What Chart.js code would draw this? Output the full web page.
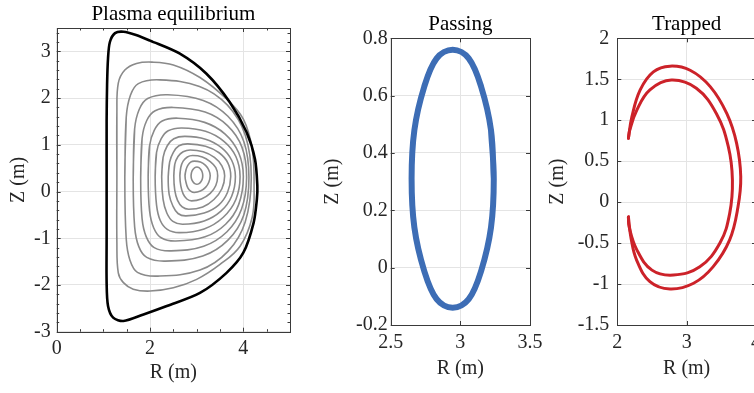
<!DOCTYPE html>
<html>
<head>
<meta charset="utf-8">
<title>Plasma equilibrium and orbits</title>
<script src="https://cdn.jsdelivr.net/npm/chart.js@4.4.1/dist/chart.umd.min.js"></script>
<style>
  html, body { margin: 0; padding: 0; background: #fff; overflow: hidden; }
  body { width: 754px; height: 393px; position: relative; }
  canvas { position: absolute; top: 0; }
</style>
</head>
<body>
<canvas id="eq" width="300" height="393" style="left:0px"></canvas>
<canvas id="pass" width="250" height="393" style="left:300px"></canvas>
<canvas id="trap" width="240" height="393" style="left:540px"></canvas>
<script>
// tick labels
var eqR = [0, 2, 4];
var eqZ = [-3, -2, -1, 0, 1, 2, 3];
var passR = [2.5, 3, 3.5];
var passZ = [-0.2, 0, 0.2, 0.4, 0.6, 0.8];
var trapR = [2, 3, 4];
var trapZ = [-1.5, -1, -0.5, 0, 0.5, 1, 1.5, 2];

// last closed flux surface [R, Z]
var lcfs = [[1.07,0.30],[1.07,1.50],[1.08,2.30],[1.10,2.85],[1.14,3.20],[1.25,3.39],[1.43,3.42],[1.70,3.35],
  [2.00,3.23],[2.64,2.95],[3.21,2.52],[3.71,1.91],[4.07,1.27],[4.25,0.69],[4.30,0.12],[4.29,-0.17],
  [4.22,-0.67],[4.00,-1.31],[3.64,-1.74],[3.07,-2.17],[2.36,-2.45],[1.86,-2.63],[1.43,-2.77],[1.21,-2.70],
  [1.10,-2.45],[1.07,-1.95],[1.07,-1.00]];

// inner flux surfaces, outermost first
var fluxSurfaces = [
  [[1.29,0.30],[1.29,1.70],[1.32,2.32],[1.46,2.60],[1.71,2.74],[2.04,2.77],[2.50,2.71],[3.07,2.44],[3.64,1.98],
   [4.00,1.55],[4.19,0.91],[4.23,0.10],[4.19,-0.55],[3.93,-1.17],[3.50,-1.56],[3.00,-1.88],[2.50,-2.06],
   [2.00,-2.13],[1.64,-2.09],[1.43,-1.95],[1.32,-1.74],[1.29,-1.10]],
  [[1.46,0.30],[1.49,1.59],[1.58,2.06],[1.75,2.31],[2.21,2.39],[3.06,2.25],[3.66,1.85],[4.04,1.21],
   [4.17,0.30],[4.04,-0.65],[3.67,-1.28],[3.07,-1.68],[2.17,-1.81],[1.73,-1.73],[1.57,-1.47],[1.49,-1.01]],
  [[1.64,0.30],[1.67,1.34],[1.77,1.76],[1.95,1.99],[2.38,2.07],[3.14,1.95],[3.67,1.61],[4.01,1.07],
   [4.12,0.30],[4.01,-0.50],[3.67,-1.04],[3.13,-1.38],[2.33,-1.49],[1.93,-1.41],[1.76,-1.18],[1.67,-0.75]],
  [[1.80,0.30],[1.83,1.14],[1.93,1.52],[2.11,1.73],[2.50,1.80],[3.18,1.70],[3.66,1.41],[3.97,0.95],
   [4.07,0.30],[3.96,-0.38],[3.65,-0.86],[3.15,-1.17],[2.45,-1.27],[2.09,-1.20],[1.92,-0.97],[1.83,-0.58]],
  [[1.96,0.32],[1.99,0.98],[2.09,1.31],[2.26,1.51],[2.60,1.57],[3.17,1.48],[3.61,1.23],[3.90,0.83],
   [4.00,0.32],[3.90,-0.28],[3.62,-0.70],[3.18,-0.97],[2.55,-1.06],[2.24,-0.99],[2.08,-0.78],[1.99,-0.41]],
  [[2.11,0.32],[2.14,0.84],[2.24,1.13],[2.39,1.30],[2.68,1.36],[3.19,1.29],[3.59,1.07],[3.84,0.75],
   [3.93,0.32],[3.84,-0.17],[3.57,-0.55],[3.16,-0.80],[2.63,-0.88],[2.37,-0.81],[2.22,-0.62],[2.14,-0.29]],
  [[2.25,0.32],[2.28,0.73],[2.37,0.98],[2.51,1.13],[2.75,1.18],[3.19,1.12],[3.53,0.94],[3.75,0.67],
   [3.83,0.32],[3.75,-0.10],[3.52,-0.42],[3.16,-0.63],[2.70,-0.70],[2.49,-0.64],[2.36,-0.46],[2.28,-0.17]],
  [[2.39,0.32],[2.42,0.63],[2.50,0.84],[2.62,0.98],[2.81,1.02],[3.19,0.97],[3.48,0.83],[3.67,0.61],
   [3.73,0.32],[3.66,-0.02],[3.47,-0.29],[3.16,-0.46],[2.77,-0.52],[2.60,-0.47],[2.49,-0.31],[2.41,-0.06]],
  [[2.51,0.34],[2.53,0.58],[2.60,0.75],[2.71,0.85],[2.86,0.89],[3.14,0.85],[3.38,0.73],[3.54,0.55],
   [3.60,0.34],[3.54,0.06],[3.37,-0.17],[3.13,-0.33],[2.83,-0.38],[2.69,-0.33],[2.59,-0.19],[2.53,0.03]],
  [[2.64,0.34],[2.66,0.52],[2.71,0.65],[2.80,0.74],[2.91,0.77],[3.12,0.74],[3.29,0.64],[3.41,0.51],
   [3.45,0.34],[3.41,0.13],[3.29,-0.04],[3.10,-0.16],[2.89,-0.20],[2.79,-0.16],[2.71,-0.05],[2.66,0.12]],
  [[2.75,0.34],[2.77,0.46],[2.81,0.56],[2.87,0.63],[2.95,0.65],[3.08,0.63],[3.19,0.56],[3.26,0.46],
   [3.29,0.34],[3.26,0.20],[3.19,0.09],[3.08,0.01],[2.95,-0.02],[2.87,0.01],[2.81,0.08],[2.77,0.20]],
  [[2.88,0.34],[2.89,0.41],[2.92,0.47],[2.96,0.51],[3.005,0.525],[3.05,0.51],[3.09,0.47],[3.12,0.41],
   [3.13,0.34],[3.12,0.27],[3.09,0.21],[3.05,0.17],[3.005,0.155],[2.96,0.17],[2.92,0.21],[2.89,0.27]]
];

// passing orbit
var passingOrbit = [[3.24,0.31],[3.22,0.48],[3.15,0.63],[3.06,0.73],[2.945,0.76],[2.83,0.73],[2.74,0.63],[2.67,0.48],
  [2.65,0.31],[2.67,0.14],[2.74,-0.01],[2.83,-0.11],[2.945,-0.14],[3.06,-0.11],[3.15,-0.01],[3.22,0.14]];

// trapped (banana) orbit, outer and inner legs between the two tips
var trappedOuter = [[2.16,0.78],[2.21,1.04],[2.33,1.37],[2.52,1.59],[2.76,1.66],[3.05,1.61],[3.34,1.41],[3.58,1.08],
  [3.72,0.72],[3.78,0.31],[3.74,-0.06],[3.62,-0.46],[3.38,-0.79],[3.10,-0.99],[2.76,-1.06],[2.47,-0.97],
  [2.28,-0.71],[2.20,-0.45],[2.16,-0.18]];
var trappedInner = [[2.16,0.78],[2.18,0.88],[2.28,1.12],[2.47,1.37],[2.78,1.49],[3.14,1.39],[3.43,1.08],[3.60,0.68],
  [3.66,0.27],[3.62,-0.14],[3.48,-0.50],[3.19,-0.79],[2.81,-0.89],[2.50,-0.83],[2.28,-0.58],[2.17,-0.30],[2.16,-0.18]];

var serif = "'Liberation Serif', 'Times New Roman', serif";

function pts(list) {
  return list.map(function(p) { return {x: p[0], y: p[1]}; });
}

// repeat the first two points so the smoothed curve closes without a kink
function loop(list) {
  return pts(list.concat([list[0], list[1]]));
}

function curve(data, color, width, tension) {
  return {
    data: data,
    showLine: true,
    borderColor: color,
    borderWidth: width,
    pointRadius: 0,
    fill: false,
    tension: tension,
    borderCapStyle: 'round',
    borderJoinStyle: 'round'
  };
}

function steps(min, max, step) {
  var out = [];
  for (var v = min; v <= max + 1e-9; v += step) out.push(Math.round(v * 1000) / 1000);
  return out;
}

// box round the plot area with inward ticks on all four sides
var frame = {
  id: 'frame',
  afterDatasetsDraw: function(chart, args, opts) {
    var c = chart.ctx, a = chart.chartArea, sx = chart.scales.x, sy = chart.scales.y;
    c.save();
    c.strokeStyle = '#3a3a3a';
    c.lineWidth = 1;
    c.beginPath();
    function tx(v, len) {
      var p = Math.round(sx.getPixelForValue(v)) + 0.5;
      c.moveTo(p, a.bottom); c.lineTo(p, a.bottom - len);
      c.moveTo(p, a.top); c.lineTo(p, a.top + len);
    }
    function ty(v, len) {
      var p = Math.round(sy.getPixelForValue(v)) + 0.5;
      c.moveTo(a.left, p); c.lineTo(a.left + len, p);
      c.moveTo(a.right, p); c.lineTo(a.right - len, p);
    }
    sx.ticks.forEach(function(t) { tx(t.value, 4); });
    sy.ticks.forEach(function(t) { ty(t.value, 4); });
    (opts.minorX || []).forEach(function(v) { tx(v, 2.5); });
    (opts.minorY || []).forEach(function(v) { ty(v, 2.5); });
    c.stroke();
    c.strokeRect(Math.round(a.left) + 0.5, Math.round(a.top) + 0.5,
      Math.round(a.right - a.left), Math.round(a.bottom - a.top));
    c.restore();
  }
};

function axis(min, max, ticks, label, horizontal, size, tickPad, titlePad) {
  return {
    type: 'linear',
    min: min,
    max: max,
    afterBuildTicks: function(s) { s.ticks = ticks.map(function(v) { return {value: v}; }); },
    afterFit: function(s) { if (horizontal) s.height = size; else s.width = size; },
    ticks: {
      color: '#262626',
      font: {family: serif, size: 20},
      padding: tickPad,
      autoSkip: false,
      maxRotation: 0,
      callback: function(v) { return String(v); }
    },
    grid: {color: '#e4e4e4', lineWidth: 1, drawTicks: false},
    border: {display: false},
    title: {display: true, text: label, color: '#262626', font: {family: serif, size: 20}, padding: titlePad}
  };
}

function panel(id, o) {
  var ctx = document.getElementById(id).getContext('2d');
  return new Chart(ctx, {
    type: 'scatter',
    data: {datasets: o.datasets},
    options: {
      responsive: false,
      animation: false,
      devicePixelRatio: 1,
      layout: {padding: {left: 0, top: 0, bottom: 0, right: o.padRight}},
      plugins: {
        legend: {display: false},
        tooltip: {enabled: false},
        title: {
          display: true, text: o.title, fullSize: false, color: '#000',
          font: {family: serif, size: 21, weight: 'normal', lineHeight: 1.2},
          padding: o.titlePad
        },
        frame: {minorX: o.minorX, minorY: o.minorY}
      },
      scales: {
        x: o.x,
        y: o.y
      }
    },
    plugins: [frame]
  });
}

var eqSets = [curve(loop(lcfs), '#000000', 2.6, 0.3)];
fluxSurfaces.forEach(function(s) { eqSets.push(curve(loop(s), '#8a8a8a', 1.6, 0.38)); });

// title block height = 25.2 + padding, so the plot box starts at the same y as before
panel('eq', {
  title: 'Plasma equilibrium',
  titlePad: {top: 1.5, bottom: 1.3},
  padRight: 10,
  datasets: eqSets,
  x: axis(0, 5, eqR, 'R (m)', true, 61.3, 5, {top: 0, bottom: 8}),
  y: axis(-3, 3.5, eqZ, 'Z (m)', false, 56.7, 6, {top: 7, bottom: 0}),
  minorX: steps(0, 5, 0.5).filter(function(v) { return eqR.indexOf(v) < 0; }),
  minorY: steps(-3, 3.5, 0.2).filter(function(v) { return eqZ.indexOf(v) < 0; })
});

panel('pass', {
  title: 'Passing',
  titlePad: {top: 11.4, bottom: 1.7},
  padRight: 20,
  datasets: [curve(loop(passingOrbit), '#3d6db5', 6, 0.36)],
  x: axis(2.5, 3.5, passR, 'R (m)', true, 68, 6, {top: 0, bottom: 12}),
  y: axis(-0.2, 0.8, passZ, 'Z (m)', false, 90.7, 3, {top: 21, bottom: 0})
});

panel('trap', {
  title: 'Trapped',
  titlePad: {top: 11.4, bottom: 1.7},
  padRight: 24,
  datasets: [
    curve(pts(trappedOuter), '#cc2229', 3, 0.4),
    curve(pts(trappedInner), '#cc2229', 3, 0.4)
  ],
  x: axis(2, 4, trapR, 'R (m)', true, 68, 6, {top: 0, bottom: 12}),
  y: axis(-1.5, 2, trapZ, 'Z (m)', false, 77.3, 8, {top: 6, bottom: 0})
});
</script>
</body>
</html>
